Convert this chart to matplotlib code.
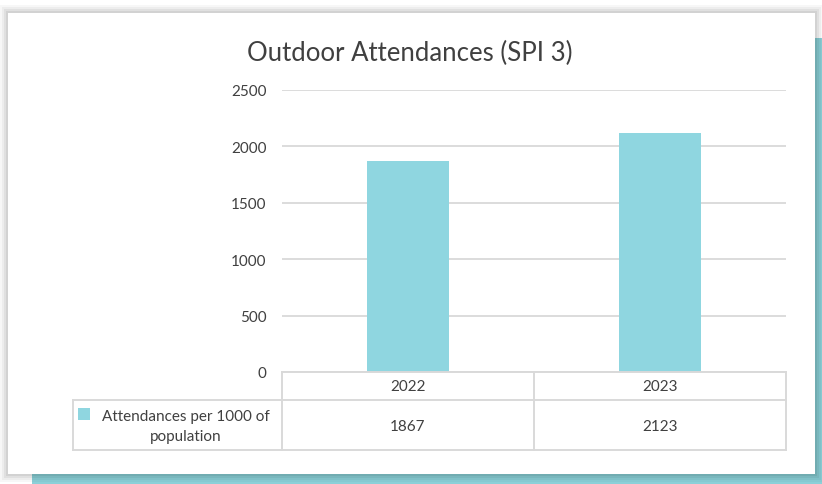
import matplotlib
matplotlib.use("Agg")
import matplotlib.pyplot as plt
from matplotlib.patches import Rectangle

years = ["2022", "2023"]
attendances = [1867, 2123]
series_label = "Attendances per 1000 of\npopulation"
title = "Outdoor Attendances (SPI 3)"
yticks = [0, 500, 1000, 1500, 2000, 2500]

W, H = 822, 485
bar_color = "#8fd6e0"
teal = "#8bd0d8"
grid = "#d9d9d9"
txt = "#404040"
plt.rcParams["font.family"] = ["Lato", "DejaVu Sans"]

fig = plt.figure(figsize=(W / 100, H / 100), dpi=100)
fig.patch.set_facecolor("white")


def px_rect(x0, y0, x1, y1, **kw):
    # rectangle in pixel coords, y from the top
    return Rectangle((x0 / W, 1 - y1 / H), (x1 - x0) / W, (y1 - y0) / H,
                     transform=fig.transFigure, **kw)


# teal backing and card with soft shadow
fig.patches.append(px_rect(32, 39, W, H, facecolor=teal, edgecolor="none", zorder=0))
for i, a in enumerate([0.03, 0.04, 0.05, 0.06]):
    d = 8 - 2 * i
    fig.patches.append(px_rect(8 - d, 14 - d, 815 + d, 475 + d, facecolor="black",
                               edgecolor="none", alpha=a, zorder=1))
fig.patches.append(px_rect(8, 14, 815, 475, facecolor="white", edgecolor="none", zorder=2))

# main axes
ax = fig.add_axes([282 / W, 1 - 373 / H, 504 / W, 282 / H])
ax.set_zorder(3)
ax.patch.set_alpha(0)
x = list(range(len(years)))
ax.bar(x, attendances, width=0.325, color=bar_color, zorder=3)
ax.set_xlim(-0.5, len(years) - 0.5)
ax.set_ylim(0, 2500)
ax.set_yticks(yticks)
ax.set_yticklabels([str(v) for v in yticks], fontsize=11, color=txt)
ax.tick_params(axis="y", length=0, pad=11)
ax.set_xticks([])
ax.yaxis.grid(True, color=grid, linewidth=1.3)
ax.set_axisbelow(True)
for s in ax.spines.values():
    s.set_visible(False)

fig.text(410 / W, 1 - 53 / H, title, ha="center", va="center", fontsize=18.5,
         color=txt, zorder=5)

# data table under the axes
left_units = -0.5 - (282 - 73) / 252
tab = fig.add_axes([73 / W, 1 - 451 / H, (786 - 73) / W, 78 / H])
tab.set_zorder(3)
tab.patch.set_alpha(0)
tab.set_xlim(left_units, len(years) - 0.5)
tab.set_ylim(78, 0)
tab.axis("off")
lc = dict(color=grid, linewidth=1.4, clip_on=False)
tab.plot([-0.5, len(years) - 0.5], [0, 0], **lc)
tab.plot([left_units, len(years) - 0.5], [28, 28], **lc)
tab.plot([left_units, len(years) - 0.5], [78, 78], **lc)
tab.plot([left_units, left_units], [28, 78], **lc)
for xb in [i - 0.5 for i in range(len(years) + 1)]:
    tab.plot([xb, xb], [0, 78], **lc)
for i, (yr, v) in enumerate(zip(years, attendances)):
    tab.text(i, 14, yr, ha="center", va="center", fontsize=11, color=txt)
    tab.text(i, 54, str(v), ha="center", va="center", fontsize=11, color=txt)
tab.text(left_units + (186 - 73) / 252, 54, series_label, ha="center", va="center",
         fontsize=11, color=txt, linespacing=1.55)
tab.add_patch(Rectangle((left_units + 5 / 252, 36), 12 / 252, 12,
                        facecolor=bar_color, edgecolor="none"))

fig.savefig("out.png", dpi=100, facecolor=fig.get_facecolor())
